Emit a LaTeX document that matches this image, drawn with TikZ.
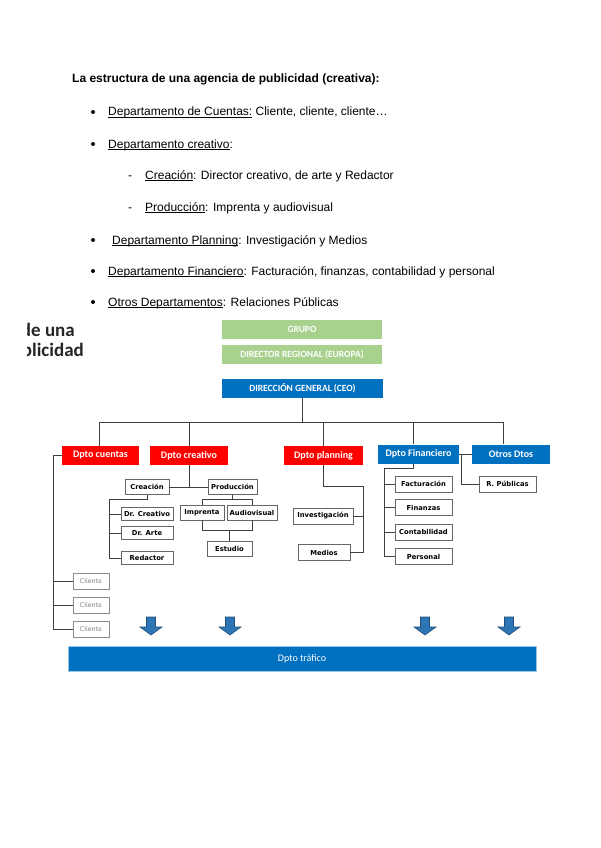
\documentclass[tikz,border=0pt]{standalone}
\usepackage{fontspec}
\setmainfont{Liberation Sans}
\newfontfamily\calib{Carlito}
\newfontfamily\dvs{DejaVu Sans}
\definecolor{grupogreen}{HTML}{A9D18E}
\definecolor{ceoblue}{HTML}{0070C0}
\definecolor{dptored}{HTML}{FF0000}
\definecolor{arrowblue}{HTML}{2E75B6}
\definecolor{arrowdark}{HTML}{1F4E79}
\definecolor{barblue}{HTML}{9DC3E6}
\newcommand{\und}[1]{\setbox0=\hbox{#1}\rlap{\rule[-1.9pt]{\wd0}{0.5pt}}\box0{}}

\begin{document}
\begin{tikzpicture}[
        x=1pt, y=-1pt,
        txt/.style = {anchor=base west, inner sep=0, font=\fontsize{12}{14}\selectfont},
        hdbox/.style = {fill=#1, text=white, minimum height=19pt, inner sep=0, font=\calib\bfseries\fontsize{9.5}{11}\selectfont},
        dpt/.style = {fill=#1, text=white, minimum height=19pt, inner sep=0, font=\calib\bfseries\fontsize{10}{12}\selectfont},
        subbox/.style = {draw=black!60, fill=white, minimum height=15pt, inner sep=0, line width=0.8pt, font=\dvs\bfseries\fontsize{6.8}{8}\selectfont},
        cli/.style = {draw=black!45, fill=white, minimum width=36pt, minimum height=16pt, inner sep=0, line width=0.7pt, text=black!50, font=\dvs\fontsize{6.3}{7}\selectfont},
        wire/.style = {draw=black!75, line width=0.9pt},
        arr/.style = {fill=arrowblue, draw=arrowdark, line width=0.6pt}
        ]

        \fill[white] (0,0) rectangle (600,848);
        \useasboundingbox (0,0) rectangle (600,848);

        % text above the chart
        \node (title) at (72,83) [txt, font=\bfseries\fontsize{12}{14}\selectfont] {La estructura de una agencia de publicidad (creativa):};
        \foreach \by in {112,144,240,271,302} \fill (93,\by) circle (2pt);
        \node (cuentas) at (108,116) [txt] {\und{Departamento de Cuentas:} Cliente, cliente, cliente…};
        \node (creativo) at (108,148) [txt] {\und{Departamento creativo}:};
        \node (d1) at (128,179) [txt] {-};
        \node (creacion) at (145,179) [txt] {\und{Creación}: Director creativo, de arte y Redactor};
        \node (d2) at (128,211) [txt] {-};
        \node (produccion) at (145,211) [txt] {\und{Producción}: Imprenta y audiovisual};
        \node (planning) at (112,244) [txt] {\und{Departamento Planning}: Investigación y Medios};
        \node (financiero) at (108,275) [txt] {\und{Departamento Financiero}: Facturación, finanzas, contabilidad y personal};
        \node (otros) at (108,306) [txt] {\und{Otros Departamentos}: Relaciones Públicas};

        % cut slide title
        \begin{scope}
            \clip (27,310) rectangle (130,370);
            \node (sl1) at (75,336) [anchor=base east, inner sep=0, text=black!85, font=\calib\bfseries\fontsize{19}{20}\selectfont] {de una};
            \node (sl2) at (84,356) [anchor=base east, inner sep=0, text=black!85, font=\calib\bfseries\fontsize{19}{20}\selectfont] {publicidad};
        \end{scope}

        % top of the chart
        \node (grupo) at (302,329.5) [hdbox=grupogreen, minimum width=160pt] {GRUPO};
        \node (dirreg) at (302,354.5) [hdbox=grupogreen, minimum width=160pt] {DIRECTOR REGIONAL (EUROPA)};
        \node (ceo) at (302.5,388.5) [hdbox=ceoblue, minimum width=161pt] {DIRECCIÓN GENERAL (CEO)};

        \node (cue) at (100.5,455.5) [dpt=dptored, minimum width=77pt] {Dpto cuentas};
        \node (cre) at (189,455.5) [dpt=dptored, minimum width=78pt] {Dpto creativo};
        \node (pla) at (323.5,455.5) [dpt=dptored, minimum width=79pt] {Dpto planning};
        \node (fin) at (418.5,454) [dpt=ceoblue, minimum width=81pt] {Dpto Financiero};
        \node (otr) at (511,454) [dpt=ceoblue, minimum width=78pt] {Otros Dtos};

        \coordinate (busL) at (99,422);
        \coordinate (busR) at (503,422);
        \draw[wire] (ceo.south) -- (ceo.south |- busL);
        \draw[wire] (busL) -- (busR);
        \draw[wire] (busL) -- (busL |- cue.north);
        \draw[wire] (cre.north) -- (cre.north |- busL);
        \draw[wire] (pla.north) -- (pla.north |- busL);
        \draw[wire] ([xshift=-5.5pt]fin.north) -- ([xshift=-5.5pt]fin.north |- busL);
        \draw[wire] (busR) -- (busR |- otr.north);

        % cuentas
        \coordinate (cueL) at (53,0);
        \node (cl1) at (91,581) [cli] {Cliente};
        \node (cl2) at (91,605) [cli] {Cliente};
        \node (cl3) at (91,629) [cli] {Cliente};
        \draw[wire] (cue.west) -- (cue.west -| cueL) |- (cl3.west);
        \draw[wire] (cl1.west) -- (cl1.west -| cueL);
        \draw[wire] (cl2.west) -- (cl2.west -| cueL);

        % creativo
        \node (crea) at (147,487) [subbox, minimum width=44pt] {Creación};
        \node (prod) at (232.5,487) [subbox, minimum width=49pt] {Producción};
        \draw[wire] (cre.south) -- (cre.south |- crea.east);
        \draw[wire] (crea.east) -- (prod.west);

        \coordinate (creaL) at (109,0);
        \node (drc) at (147,514) [subbox, minimum width=52pt, minimum height=13pt] {Dr. Creativo};
        \node (dra) at (147,533) [subbox, minimum width=52pt, minimum height=13pt] {Dr. Arte};
        \node (red) at (147,558) [subbox, minimum width=52pt, minimum height=13pt] {Redactor};
        \draw[wire] (crea.south) -- ++(0,5) -| (red.west -| creaL) -- (red.west);
        \draw[wire] (drc.west) -- (drc.west -| creaL);
        \draw[wire] (dra.west) -- (dra.west -| creaL);

        \node (imp) at (202,512.5) [subbox, minimum width=44pt] {Imprenta};
        \node (aud) at (252,512.5) [subbox, minimum width=50pt] {Audiovisual};
        \node (est) at (229.5,548.5) [subbox, minimum width=45pt] {Estudio};
        \draw[wire] (prod.south) -- ++(0,5);
        \draw[wire] (imp.north) -- ++(0,-5) -| (aud.north);
        \draw[wire] (imp.south) -- ++(0,10) -| (aud.south);
        \draw[wire] (est.north) -- ++(0,-11);

        % planning
        \coordinate (plaR) at (363,486);
        \node (inv) at (323,516) [subbox, minimum width=60pt, minimum height=16pt] {Investigación};
        \node (med) at (324,552.5) [subbox, minimum width=52pt, minimum height=16pt] {Medios};
        \draw[wire] (pla.south) |- (plaR) |- (med.east);
        \draw[wire] (inv.east) -- (inv.east -| plaR);

        % financiero
        \coordinate (finL) at (384,468);
        \node (fac) at (423.5,484) [subbox, minimum width=57pt, minimum height=16pt] {Facturación};
        \node (fnz) at (423.5,507.5) [subbox, minimum width=57pt, minimum height=16pt] {Finanzas};
        \node (con) at (423.5,532) [subbox, minimum width=57pt, minimum height=16pt] {Contabilidad};
        \node (per) at (423.5,556.5) [subbox, minimum width=57pt, minimum height=16pt] {Personal};
        \draw[wire] ([xshift=-5.5pt]fin.south) |- (finL) |- (per.west);
        \draw[wire] (fac.west) -- (fac.west -| finL);
        \draw[wire] (fnz.west) -- (fnz.west -| finL);
        \draw[wire] (con.west) -- (con.west -| finL);

        % otros
        \node (rpu) at (507.5,484) [subbox, minimum width=57pt, minimum height=16pt] {R. Públicas};
        \draw[wire] (fin.east) -- (otr.west);
        \draw[wire] ([xshift=2pt]fin.east) |- (rpu.west);

        % arrows and trafico
        \foreach \ax in {151,230,425,509}
            \filldraw[arr] (\ax-4.5,617) -- (\ax+4.5,617) -- (\ax+4.5,627) -- (\ax+11,627) -- (\ax,635) -- (\ax-11,627) -- (\ax-4.5,627) -- cycle;
        \node (tra) at (302,658.5) [fill=ceoblue, draw=barblue, line width=0.8pt, minimum width=468pt, minimum height=25pt, inner sep=0, text=white, font=\calib\fontsize{10}{12}\selectfont] {Dpto tráfico};
    \end{tikzpicture}
\end{document}
